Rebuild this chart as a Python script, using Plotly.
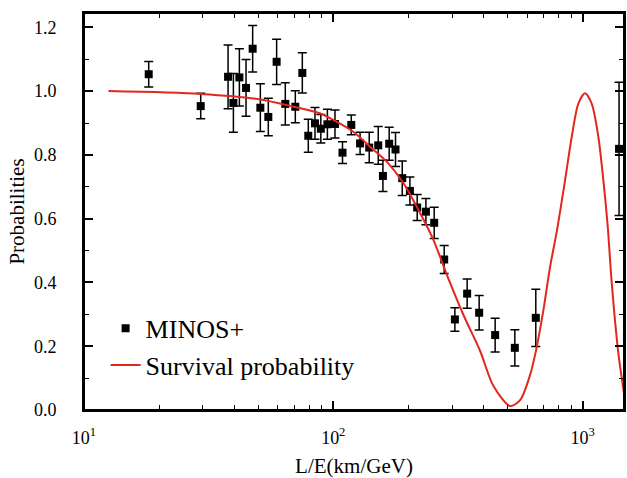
import plotly.graph_objects as go

# MINOS+ data points (L/E in km/GeV, probability, symmetric error)
le = [18.18, 29.39, 37.84, 39.75, 42.01, 44.67, 47.49, 50.98, 54.88, 59.26,
      64.20, 70.42, 75.13, 79.39, 84.45, 89.13, 94.71, 101.6, 108.9, 118.1,
      128.1, 139.4, 151.5, 158.2, 167.6, 177.7, 189.1, 203.0, 217.1, 235.3,
      254.0, 278.6, 307.5, 344.4, 384.8, 446.1, 535.0, 649.3, 1401]
prob = [1.053, 0.953, 1.045, 0.963, 1.043, 1.010, 1.133, 0.948, 0.919, 1.092,
        0.960, 0.951, 1.057, 0.860, 0.899, 0.882, 0.896, 0.897, 0.807, 0.894,
        0.836, 0.823, 0.830, 0.734, 0.835, 0.817, 0.727, 0.687, 0.635, 0.622,
        0.587, 0.472, 0.284, 0.365, 0.305, 0.235, 0.195, 0.289, 0.819]
err = [0.040, 0.040, 0.100, 0.092, 0.090, 0.089, 0.073, 0.075, 0.059, 0.071,
       0.066, 0.050, 0.063, 0.052, 0.050, 0.045, 0.047, 0.044, 0.034, 0.031,
       0.035, 0.048, 0.059, 0.049, 0.052, 0.053, 0.054, 0.044, 0.041, 0.041,
       0.049, 0.044, 0.037, 0.046, 0.054, 0.053, 0.057, 0.090, 0.209]

# Survival probability curve
curve_x = [12.54, 29.39, 50.98, 69.32, 88.70, 100.3, 120.6, 140.7, 164.2, 191.3,
           223.2, 252.4, 285.6, 332.9, 388.3, 439.1, 512.1, 561.7, 616.0, 655.2,
           696.5, 740.9, 788.2, 851.1, 905.1, 962.1, 1023, 1088, 1157, 1212,
           1262, 1309, 1392, 1480]
curve_y = [1.000, 0.991, 0.974, 0.951, 0.930, 0.909, 0.872, 0.825, 0.778, 0.711,
           0.617, 0.533, 0.424, 0.298, 0.185, 0.075, 0.0125, 0.031, 0.110, 0.198,
           0.313, 0.449, 0.560, 0.721, 0.857, 0.961, 0.993, 0.961, 0.857, 0.721,
           0.575, 0.400, 0.178, 0.031]

xticks = [10, 100, 1000]
xticktext = ["10<sup>1</sup>", "10<sup>2</sup>", "10<sup>3</sup>"]
yticks = [0.0, 0.2, 0.4, 0.6, 0.8, 1.0, 1.2]
yticktext = ["0.0", "0.2", "0.4", "0.6", "0.8", "1.0", "1.2"]

minor_x = [m * 10 ** k for k in (1, 2, 3) for m in range(2, 10)]

FONT = "Liberation Serif, Times New Roman, serif"
XRANGE = [1, 3.1663]
YRANGE = [0, 1.245]

fig = go.Figure()
fig.add_trace(go.Scatter(
    x=le, y=prob, mode="markers", name="MINOS+", legendgroup="a",
    marker=dict(symbol="square", size=8, color="black"),
    error_y=dict(type="data", array=err, visible=True, color="black",
                 thickness=1.5, width=4.5),
))
fig.add_trace(go.Scatter(
    x=curve_x, y=curve_y, mode="lines", name="Survival probability", legendgroup="b",
    line=dict(color="#e0281f", width=2, shape="spline", smoothing=0.8),
))
# invisible trace so the mirrored top / right tick axes are drawn
fig.add_trace(go.Scatter(
    x=[le[0]], y=[prob[0]], xaxis="x2", yaxis="y2", mode="markers",
    marker=dict(opacity=0), showlegend=False, hoverinfo="skip",
))

tick_common = dict(ticks="inside", ticklen=9, tickwidth=1.5, tickcolor="black",
                   showline=True, linecolor="black", linewidth=2,
                   showgrid=False, zeroline=False, automargin=False)

fig.update_layout(
    width=627, height=478,
    margin=dict(l=83.5, r=3, t=13, b=68),
    paper_bgcolor="white", plot_bgcolor="white",
    font=dict(family=FONT, color="black", size=18),
    showlegend=True,
    legend=dict(x=0.04, y=0.265, xanchor="left", yanchor="top",
                font=dict(family=FONT, size=26, color="black"),
                bgcolor="rgba(0,0,0,0)", tracegroupgap=0, traceorder="grouped"),
    xaxis=dict(
        type="log", range=XRANGE,
        tickvals=xticks, ticktext=xticktext,
        minor=dict(tickvals=minor_x, ticks="inside", ticklen=5, tickwidth=1.2, tickcolor="black"),
        mirror="ticks",
        tickfont=dict(family=FONT, size=18),
        ticklabelstandoff=10,
        title=dict(text="L/E(km/GeV)", font=dict(family=FONT, size=21), standoff=12),
        **tick_common,
    ),
    yaxis=dict(
        range=YRANGE,
        tickvals=yticks, ticktext=yticktext,
        minor=dict(dtick=0.1, ticks="inside", ticklen=5, tickwidth=1.2, tickcolor="black"),
        mirror="ticks",
        tickfont=dict(family=FONT, size=18),
        ticklabelstandoff=22,
        title=dict(text="Probabilities", font=dict(family=FONT, size=21), standoff=4),
        **tick_common,
    ),
    xaxis2=dict(
        type="log", range=XRANGE, overlaying="x", side="top", anchor="y",
        tickvals=xticks, showticklabels=False,
        minor=dict(tickvals=minor_x, ticks="inside", ticklen=5, tickwidth=1.2, tickcolor="black"),
        **tick_common,
    ),
    yaxis2=dict(
        range=YRANGE, overlaying="y", side="right", anchor="x",
        tickvals=yticks, showticklabels=False,
        minor=dict(dtick=0.1, ticks="inside", ticklen=5, tickwidth=1.2, tickcolor="black"),
        **tick_common,
    ),
    shapes=[dict(type="rect", xref="paper", yref="paper", x0=0, x1=1, y0=0, y1=1,
                 line=dict(color="black", width=2), layer="above")],
)

# remove the default 8 px page margin so the 627x478 figure fills the window
fig.write_html(
    "out.html",
    config={"displayModeBar": False},
    post_script="document.body.style.margin='0';document.body.style.overflow='hidden';",
)
